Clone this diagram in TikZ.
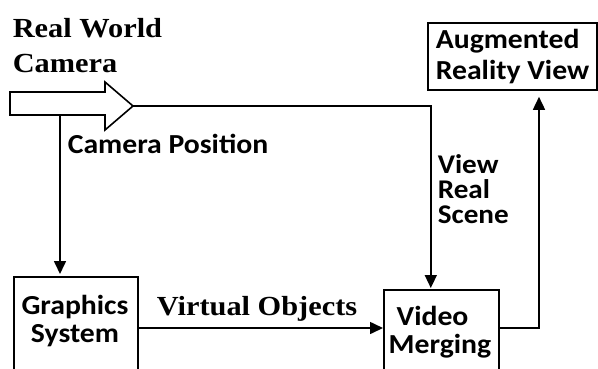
\documentclass[tikz,border=0pt]{standalone}
\usepackage{fontspec}
\setmainfont{Carlito}[FakeStretch=1.08]
\newfontfamily\serifbf{Liberation Serif}[FakeStretch=1.1]
\usetikzlibrary{arrows.meta}
\begin{document}
\begin{tikzpicture}[x=1pt,y=-1pt,line width=1.6pt,
  box/.style={draw,line width=1.6pt},
  sans/.style={font=\fontsize{27.5}{28}\selectfont\bfseries,inner sep=0pt},
  serif/.style={font=\serifbf\fontsize{27.6}{35}\selectfont\bfseries,inner sep=0pt},
  arr/.style={-{Triangle[width=12pt,length=13pt]}}]
\useasboundingbox (0,0) rectangle (598,368);
\clip (0,0) rectangle (598,368);
% block arrow (real world camera)
\draw[line width=1.6pt,line join=miter] (10,92) -- (105,92) -- (105,82) -- (133,106) -- (105,130) -- (105,115) -- (10,115) -- cycle;
\coordinate (camtip) at (133,106);
\coordinate (cambase) at (60,115);
\coordinate (vo) at (0,328);
% boxes
\node[box,minimum width=124pt,minimum height=110pt,anchor=north west] (gs) at (13,276) {};
\node[sans,align=center] (gst) at (75,321) {Graphics\\System};
\node[box,minimum width=115pt,minimum height=100pt,anchor=north west] (vm) at (383,289) {};
\node[sans,align=left] (vmt) at (440,332) {\hspace*{8pt}Video\\Merging};
\node[box,sans,font=\fontsize{27.5}{31}\selectfont\bfseries,align=left,minimum width=169pt,minimum height=67pt] (arv) at (512.5,56.5) {Augmented\\Reality View};
% labels
\node[serif,align=left,anchor=north west] (rwc) at (12,18) {Real World\\Camera};
\node[sans,anchor=west] (cp) at (67,144) {Camera Position};
\node[sans,font=\fontsize{27}{25}\selectfont\bfseries,align=left,anchor=north west] (vrs) at (437,154) {View\\Real\\Scene};
\node[serif,anchor=base] (vob) at (257,315) {Virtual Objects};
% connectors
\draw[arr,shorten >=2pt] (cambase) -- (cambase |- gs.north);
\draw[arr,shorten >=1pt] (camtip) -| ([xshift=-10.5pt]vm.north);
\draw[arr] (gs.east |- vo) -- (vm.west |- vo);
\draw[arr,shorten >=6pt] (vm.east |- vo) -| ([xshift=26.5pt]arv.south);
\end{tikzpicture}
\end{document}
